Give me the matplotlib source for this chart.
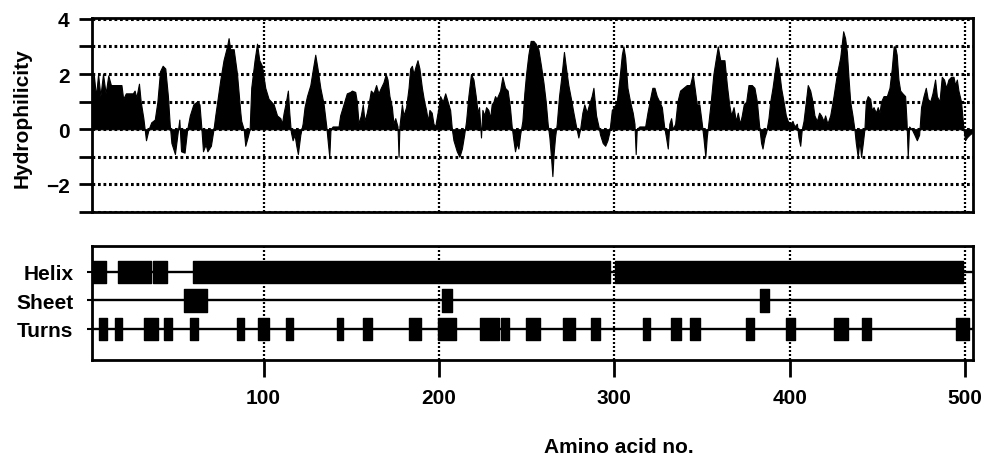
import matplotlib.pyplot as plt

plt.rcParams['font.family'] = ['Liberation Sans', 'DejaVu Sans']
plt.rcParams['font.weight'] = 'bold'

# hydrophilicity profile (residue no., value)
residue = [2.5, 3.2, 4.5, 5.7, 7.0, 8.5, 10.0, 11.5, 13.0, 19.0, 20.0, 21.5, 25.5, 26.5, 27.5, 29.0,
           30.0, 31.5, 33.0, 34.5, 36.0, 38.0, 39.5, 41.0, 42.5, 44.0, 45.5, 46.5, 47.5, 49.5, 50.5,
           52.0, 53.0, 55.0, 56.5, 58.0, 60.0, 62.0, 63.5, 64.5, 65.5, 67.0, 68.0, 70.0, 71.5, 72.5,
           75.4, 77.2, 79.2, 80.1, 81.0, 83.0, 84.9, 86.8, 87.3, 88.7, 89.6, 90.9, 92.1, 93.0, 94.9,
           96.3, 97.6, 99.1, 101.0, 102.9, 105.8, 107.7, 109.6, 110.5, 111.5, 112.8, 113.9, 114.7,
           115.6, 116.6, 117.7, 118.7, 119.6, 121.0, 122.3, 123.4, 124.8, 126.7, 128.2, 129.5, 130.8,
           132.4, 134.3, 135.8, 136.7, 137.5, 138.2, 139.4, 142.8, 143.7, 145.6, 147.5, 149.4, 150.4,
           152.3, 153.2, 154.2, 155.5, 156.6, 157.6, 158.9, 160.4, 161.2, 162.7, 164.2, 165.5, 166.9,
           168.4, 169.7, 170.7, 171.8, 173.2, 174.1, 175.1, 176.4, 177.0, 177.5, 178.9, 179.8, 181.3,
           182.7, 183.6, 184.6, 185.5, 186.8, 187.8, 188.9, 190.3, 191.6, 192.7, 193.7, 194.6, 195.9,
           196.9, 197.9, 199.8, 200.7, 202.2, 203.6, 205.0, 206.4, 207.4, 208.3, 210.2, 211.7, 213.1,
           214.4, 215.5, 216.8, 218.3, 219.7, 221.0, 222.1, 222.9, 224.0, 224.8, 225.9, 226.9, 228.2,
           229.2, 230.1, 231.1, 232.0, 232.9, 234.9, 236.2, 237.7, 239.2, 240.5, 241.5, 242.5, 243.4,
           244.4, 245.3, 246.3, 247.6, 248.7, 249.7, 251.0, 252.3, 253.9, 255.2, 256.7, 258.2, 259.6,
           260.9, 262.0, 263.0, 263.9, 264.7, 265.4, 266.2, 267.2, 268.5, 270.0, 271.3, 272.5, 273.8,
           275.3, 276.7, 278.2, 279.5, 280.5, 281.8, 282.9, 284.3, 285.6, 287.1, 288.1, 289.6, 291.0,
           291.9, 293.4, 294.8, 296.1, 297.2, 298.6, 299.9, 301.4, 302.9, 304.3, 305.2, 306.2, 307.5,
           309.0, 310.5, 311.5, 312.2, 312.8, 314.3, 317.6, 318.9, 320.4, 321.7, 322.9, 324.2, 325.7,
           327.1, 328.4, 329.5, 330.5, 331.4, 332.4, 333.3, 334.7, 336.0, 337.5, 339.4, 341.3, 343.2,
           344.7, 346.0, 347.0, 348.5, 349.9, 350.8, 351.9, 352.7, 353.6, 355.0, 356.5, 358.0, 359.0,
           360.4, 361.7, 362.8, 364.2, 365.5, 366.6, 368.0, 369.3, 370.4, 371.6, 372.7, 373.8, 375.2,
           376.5, 378.4, 379.9, 381.3, 382.6, 383.7, 384.5, 385.6, 386.6, 387.9, 388.9, 390.2, 391.3,
           392.7, 394.0, 395.1, 396.5, 397.8, 398.9, 400.3, 401.6, 402.7, 404.1, 405.0, 406.0, 406.9,
           407.9, 409.2, 410.3, 411.7, 413.0, 414.1, 415.5, 416.8, 417.9, 419.3, 420.2, 421.5, 423.1,
           425.0, 426.9, 428.8, 430.5, 431.6, 432.6, 433.5, 434.5, 435.8, 436.9, 437.7, 438.8, 439.8,
           440.7, 441.7, 442.6, 443.4, 444.5, 445.9, 446.8, 447.8, 449.1, 450.2, 451.2, 452.1, 453.5,
           455.4, 456.9, 458.2, 459.3, 460.1, 461.0, 462.0, 463.0, 464.3, 465.8, 466.6, 467.3, 468.1,
           469.6, 471.1, 472.5, 473.8, 474.9, 476.3, 477.6, 478.7, 480.1, 481.4, 482.9, 483.9, 485.4,
           486.7, 488.0, 489.2, 490.5, 492.0, 493.4, 494.3, 495.3, 496.2, 497.7, 499.1, 500.0, 501.0,
           502.5, 504.5]
hydro = [1.4, 2.0, 1.2, 2.0, 1.2, 2.0, 1.3, 1.95, 1.6, 1.6, 1.1, 1.3, 1.3, 1.4, 1.15, 1.65,
         1.0, 0.4, -0.4, 0.0, 0.25, 0.35, 1.0, 2.1, 2.3, 2.2, 1.2, 0.2, -0.5, -0.9, -0.4,
         0.35, -0.8, -0.85, 0.0, 0.5, 0.9, 1.0, 0.9, 0.1, -0.8, -0.55, -0.8, -0.6, 0.0, 0.5,
         1.8, 2.5, 3.0, 3.3, 2.9, 2.9, 2.0, 0.6, 0.3, 0.0, -0.6, -0.3, 0.0, 1.5, 2.5,
         3.1, 2.5, 2.3, 1.5, 1.1, 0.9, 0.5, 0.4, 0.2, 0.6, 1.0, 1.4, 0.6,
         -0.1, -0.4, -0.2, -0.6, -0.9, -0.2, 0.2, 0.8, 1.2, 1.6, 2.2, 2.7, 2.2,
         1.5, 0.9, 0.1, -0.5, -1.0, 0.0, 0.1, 0.1, 0.5, 0.9, 1.3, 1.35, 1.4,
         1.35, 1.0, 0.2, 0.5, 0.9, 0.3, 0.6, 1.1, 1.4, 1.3, 1.6, 1.3, 1.5,
         1.7, 2.0, 1.8, 1.2, 0.8, 0.2, 0.4, 0.1, -1.0, 0.1, 0.9, 0.5, 0.8,
         1.5, 2.2, 2.3, 2.0, 2.3, 2.5, 2.2, 1.5, 1.0, 0.7, 0.3, 0.7, 0.6,
         0.2, 0.1, 0.8, 1.2, 1.0, 1.3, 1.0, 0.7, 0.0, -0.4, -0.8, -1.0, -0.7,
         -0.2, 0.3, 1.2, 2.0, 1.8, 1.2, 0.6, 0.8, -0.3, 0.7, 0.5, 0.8, 0.7,
         0.4, 0.9, 1.0, 1.2, 1.1, 1.4, 1.9, 1.5, 1.4, 0.8, 0.1, -0.4, -0.8,
         -0.5, -0.7, -0.2, 0.3, 1.3, 2.0, 2.7, 3.2, 3.2, 3.1, 2.9, 2.3, 1.7,
         1.0, 0.2, -0.3, -1.0, -1.7, -0.9, -0.3, 0.2, 1.2, 2.0, 2.8, 2.2, 1.6,
         1.1, 0.6, 0.1, -0.3, 0.0, 0.6, 0.9, 0.6, 0.9, 1.2, 1.5, 0.5, 0.1,
         -0.2, -0.5, -0.6, -0.4, -0.1, 0.7, 0.8, 1.0, 1.8, 2.7, 3.0, 2.6, 1.5,
         1.0, 0.6, 0.2, -0.9, 0.0, 0.1, 0.1, 0.6, 1.1, 1.5, 1.5, 1.2, 1.0,
         0.8, 0.1, -0.3, -0.7, 0.2, 0.4, 0.0, 0.2, 1.0, 1.4, 1.5, 1.6, 1.6,
         2.0, 1.4, 0.9, 0.9, 0.2, -0.3, -1.0, -0.3, 0.2, 1.0, 2.0, 2.6, 3.0,
         2.5, 2.5, 2.5, 1.6, 0.9, 0.5, 0.8, 0.3, 0.6, 0.2, 0.5, 0.9, 1.0,
         1.6, 1.6, 1.5, 1.0, 0.1, -0.5, -0.7, -0.3, -0.1, 0.4, 1.0, 1.5, 2.0,
         2.6, 2.1, 1.5, 1.0, 0.5, 0.3, 0.2, 0.3, 0.1, 0.2, -0.3, -0.6, 0.0,
         0.3, 1.0, 1.6, 1.4, 1.0, 0.5, 0.3, 0.6, 0.5, 0.3, 0.5, 0.2, 0.5,
         1.2, 2.0, 2.6, 3.55, 3.3, 2.8, 1.9, 1.0, 0.5, 0.0, -0.5, -1.0, -0.4,
         -1.0, -0.5, 0.0, 1.0, 1.2, 1.1, 0.7, 0.8, 0.6, 0.8, 0.6, 1.0, 1.2,
         1.2, 1.5, 2.2, 3.0, 3.0, 2.7, 1.8, 1.4, 1.3, 1.2, 0.3, -1.0, 0.1,
         0.0, -0.2, -0.4, -0.2, 0.8, 1.2, 1.5, 1.1, 1.0, 1.3, 1.8, 1.2, 1.0,
         1.9, 1.8, 1.5, 1.8, 1.9, 1.9, 1.6, 1.8, 1.4, 1.0, 0.0, -0.4, -0.3,
         -0.2, -0.1]

y_ticks = [-3, -2, -1, 0, 1, 2, 3, 4]
y_ticklabels = ['', '\u22122', '', '0', '', '2', '', '4']
x_ticks = [100, 200, 300, 400, 500]

# secondary structure (start, end residue)
rows = ['Helix', 'Sheet', 'Turns']
helix = [(2.5, 10.3), (16.8, 35.8), (36.9, 44.9), (59.7, 297.3), (300.5, 498.7)]
sheet = [(54.8, 67.7), (202.0, 207.4), (382.8, 388.1)]
turns = [(6.3, 10.7), (15.1, 19.3), (32.0, 39.6), (43.0, 47.8), (58.2, 62.4), (84.8, 89.0),
         (97.1, 102.9), (112.8, 116.8), (141.8, 145.6), (157.0, 161.8), (183.2, 189.7),
         (199.4, 209.7), (223.5, 234.3), (235.5, 239.7), (249.6, 257.8), (270.7, 277.7),
         (286.8, 291.6), (316.1, 320.5), (332.3, 338.0), (343.3, 349.0), (375.0, 379.4),
         (397.8, 403.1), (425.4, 433.5), (441.5, 446.3), (494.9, 502.5)]

fig = plt.figure(figsize=(9.85, 4.56), dpi=100)
ax1 = fig.add_axes([0.0939, 0.5329, 0.8939, 0.4254])
ax2 = fig.add_axes([0.0939, 0.2083, 0.8939, 0.25])

dots = (0, (0.9, 0.9))

# top: hydrophilicity
ax1.fill_between(residue, hydro, 0, color='black', lw=0.8, zorder=3)
ax1.set_xlim(2.5, 504.5)
ax1.set_ylim(-3, 4.03)
ax1.set_yticks(y_ticks)
ax1.set_yticklabels(y_ticklabels)
ax1.set_xticks(x_ticks)
ax1.tick_params(axis='x', length=0, labelbottom=False)
ax1.tick_params(axis='y', direction='out', length=9.5, width=2, pad=7, labelsize=15)
ax1.yaxis.grid(True, ls=dots, lw=2.2, color='black')
ax1.xaxis.grid(True, ls=dots, lw=1.6, color='black')
ax1.set_axisbelow(True)

# bottom: secondary structure
ax2.set_xlim(2.5, 504.5)
ax2.set_ylim(-0.09, 3.91)
row_y = [3, 2, 1]
for y in row_y:
    ax2.axhline(y, color='black', lw=1.7, zorder=2)
for segs, y in zip([helix, sheet, turns], row_y):
    ax2.broken_barh([(s, e - s) for s, e in segs], (y - 0.4, 0.8), color='black', zorder=3)
ax2.set_yticks(row_y)
ax2.set_yticklabels(rows)
ax2.set_xticks(x_ticks)
ax2.tick_params(axis='y', direction='out', length=3.6, width=1.5, pad=10, labelsize=15)
ax2.tick_params(axis='x', direction='out', length=12, width=2, pad=8, labelsize=15)
ax2.xaxis.grid(True, ls=dots, lw=1.6, color='black')
ax2.set_axisbelow(True)

for ax in (ax1, ax2):
    for sp in ax.spines.values():
        sp.set_linewidth(2)

fig.text(0.0223, 0.741, 'Hydrophilicity', rotation=90, ha='center', va='center',
         fontsize=15, fontweight='bold')
fig.text(0.6284, 0.0197, 'Amino acid no.', ha='center', va='center',
         fontsize=15, fontweight='bold')

fig.savefig('out.png', dpi=100)
